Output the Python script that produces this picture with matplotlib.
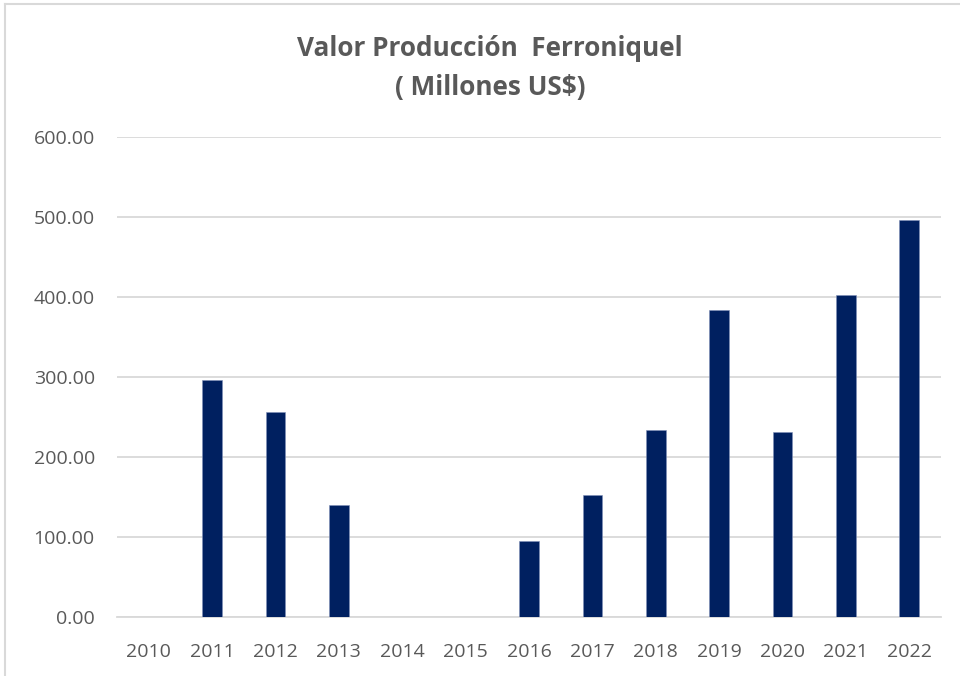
import matplotlib
matplotlib.use("Agg")
import matplotlib.pyplot as plt
from matplotlib.lines import Line2D
from matplotlib import font_manager

years = ["2010", "2011", "2012", "2013", "2014", "2015", "2016", "2017", "2018", "2019", "2020", "2021", "2022"]
values = [0, 296.2, 256.5, 140.1, 0, 0, 94.5, 153.0, 233.3, 383.7, 231.3, 402.9, 496.0]
yticks = [0, 100, 200, 300, 400, 500, 600]

names = {f.name for f in font_manager.fontManager.ttflist}
fam = "Liberation Sans Narrow" if "Liberation Sans Narrow" in names else "Open Sans"
plt.rcParams['font.family'] = [fam, 'DejaVu Sans']

fig = plt.figure(figsize=(9.6, 6.76), dpi=100)
ax = fig.add_axes([117/960, 1 - 617/676, (941-117)/960, (617-137)/676])

x = list(range(len(years)))
ax.bar(x, values, width=0.31, color="#002060", edgecolor="#8090b8", linewidth=0.4, zorder=3)
ax.set_xlim(-0.5, len(years) - 0.5)
ax.set_ylim(0, 600)
ax.set_yticks(yticks)
ax.set_yticklabels([f"{v:.2f}" for v in yticks])
ax.set_xticks(x)
ax.set_xticklabels(years)
ax.grid(axis="y", color="#d9d9d9", linewidth=1.3, zorder=0)
for s in ["top", "right", "left"]:
    ax.spines[s].set_visible(False)
ax.spines["bottom"].set_color("#d9d9d9")
ax.spines["bottom"].set_linewidth(1.3)
ax.tick_params(axis="both", length=0, colors="#595959", labelsize=14)
ax.tick_params(axis="y", pad=16)
ax.tick_params(axis="x", pad=19)

fig.text(490/960, 1 - 48/676, "Valor Producción  Ferroniquel", ha="center", va="center",
         fontsize=18.8, fontweight="bold", color="#595959")
fig.text(490/960, 1 - 88/676, "( Millones US$)", ha="center", va="center",
         fontsize=18.8, fontweight="bold", color="#595959")

fig.add_artist(Line2D([5/960, 5/960], [0, 1 - 4/676], transform=fig.transFigure, color="#d9d9d9", linewidth=1.5))
fig.add_artist(Line2D([5/960, 1], [1 - 4/676, 1 - 4/676], transform=fig.transFigure, color="#d9d9d9", linewidth=1.5))

fig.savefig("out.png", dpi=100)
